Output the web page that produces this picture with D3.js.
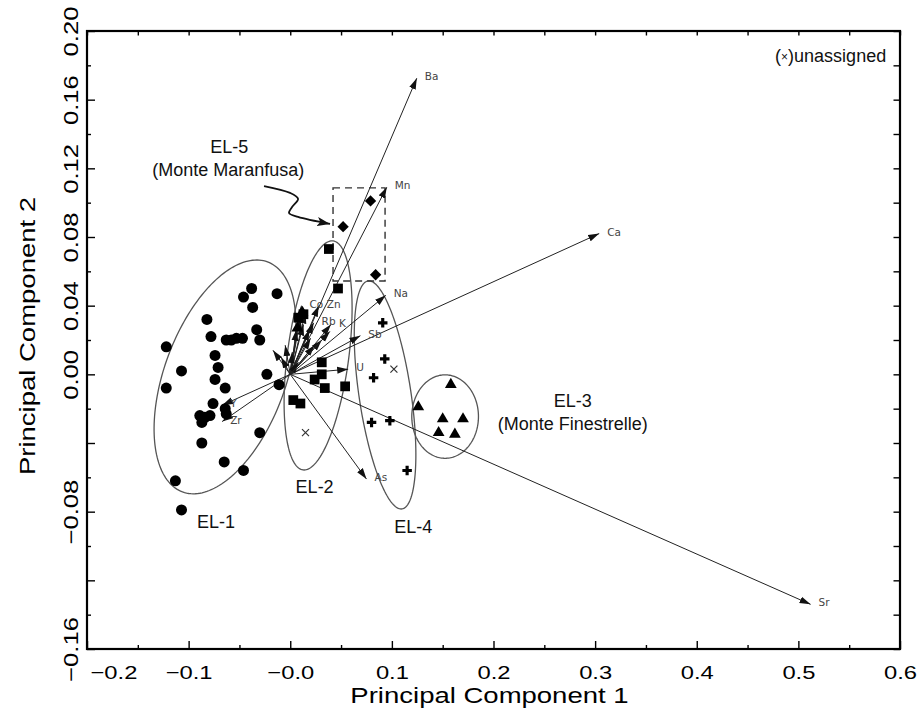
<!DOCTYPE html>
<html>
<head>
<meta charset="utf-8">
<script src="https://d3js.org/d3.v7.min.js"></script>
<style>
  html, body { margin: 0; background: #fff; }
  svg { display: block; font-family: "Liberation Sans", Arial, sans-serif; }
  .axis path.domain { display: none; }
  .axis line { stroke: #000; stroke-width: 1.4; }
  .axis text { fill: #000; }
</style>
</head>
<body>
<svg id="chart" width="919" height="718"></svg>
<script>
// ---- data ----
var xMajor = [-0.2, -0.1, 0.0, 0.1, 0.2, 0.3, 0.4, 0.5, 0.6];
var xMinor = [-0.15, -0.05, 0.05, 0.15, 0.25, 0.35, 0.45, 0.55];
var xTickLabels = ["\u22120.2", "\u22120.1", "\u22120.0", "0.1", "0.2", "0.3", "0.4", "0.5", "0.6"];
var yMajor = [0.20, 0.16, 0.12, 0.08, 0.04, 0.00, -0.04, -0.08, -0.12, -0.16];
var yMinor = [0.18, 0.14, 0.10, 0.06, 0.02, -0.02, -0.06, -0.10, -0.14];
var yTickLabels = ["0.20", "0.16", "0.12", "0.08", "0.04", "0.00", "", "\u22120.08", "", "\u22120.16"];

// EL-1 (circles)
var el1 = [[-0.038,0.050],[-0.046,0.045],[-0.037,0.039],[-0.013,0.047],[-0.082,0.032],
  [-0.122,0.016],[-0.078,0.022],[-0.063,0.020],[-0.058,0.020],[-0.053,0.021],[-0.047,0.021],
  [-0.033,0.026],[-0.030,0.020],[-0.074,0.011],[-0.071,0.004],[-0.107,0.002],[-0.122,-0.008],
  [-0.074,-0.003],[-0.064,-0.008],[-0.023,0.000],[-0.011,-0.006],[-0.076,-0.017],[-0.064,-0.020],
  [-0.063,-0.023],[-0.089,-0.024],[-0.084,-0.025],[-0.079,-0.024],[-0.087,-0.028],[-0.030,-0.034],
  [-0.087,-0.040],[-0.065,-0.051],[-0.046,-0.056],[-0.113,-0.062],[-0.107,-0.079]];
// EL-2 (squares)
var el2 = [[0.038,0.073],[0.047,0.050],[0.013,0.035],[0.008,0.033],[0.031,0.007],[0.031,0.000],
  [0.024,-0.003],[0.034,-0.008],[0.054,-0.007],[0.003,-0.015],[0.010,-0.017]];
// EL-2 triangles inside the cluster
var el2Tri = [[0.007,0.027],[0.012,0.036]];
// EL-3 (triangles)
var el3 = [[0.158,-0.006],[0.126,-0.019],[0.150,-0.026],[0.170,-0.026],[0.146,-0.034],[0.162,-0.035]];
// EL-4 (plus)
var el4 = [[0.091,0.030],[0.093,0.009],[0.082,-0.002],[0.080,-0.028],[0.098,-0.027],[0.115,-0.056]];
// EL-5 (diamonds)
var el5 = [[0.079,0.101],[0.052,0.086],[0.084,0.058]];
// unassigned (x)
var unassigned = [[0.102,0.003],[0.015,-0.034]];

// element loadings: [label, PC1, PC2]
var loadings = [["Ba",0.1245,0.1725],["Mn",0.095,0.109],["Ca",0.304,0.082],["Na",0.094,0.046],
  ["Sb",0.069,0.0225],["U",0.057,0.003],["As",0.075,-0.061],["Sr",0.512,-0.134],
  ["Zr",-0.067,-0.0275],["Y",-0.067,-0.018],["Co",0.011,0.040],["Zn",0.028,0.040],
  ["Rb",0.023,0.030],["K",0.040,0.029],["",0.019,0.026],
  ["",0.010,0.033],["",0.015,0.036],["",0.006,0.026],["",0.020,0.021],["",-0.017,0.014],
  ["",-0.005,0.017],["",0.013,0.029],["",0.024,0.017],["",0.002,0.013],["",0.031,0.020],
  ["",-0.009,0.010],["",0.008,0.007],["",0.039,0.025]];

// group outlines: centre and two half-axis vectors (data units)
var groupEllipses = [
  {cx: -0.0642, cy: -0.0015, a: [0.0418, 0.0670], b: [0.0559, -0.0122]},
  {cx: 0.0274, cy: 0.0110, a: [0.0148, 0.0667], b: [0.0300, -0.0023]},
  {cx: 0.0933, cy: -0.0120, a: [-0.0167, 0.0664], b: [0.0253, 0.0022]},
  {cx: 0.1524, cy: -0.0246, a: [0.0, 0.0243], b: [0.0328, 0.0]}
];
var el5Box = [0.0421, 0.0544, 0.0933, 0.1086];
var squiggle = [[-0.0258,0.1097],[-0.0002,0.1057],[0.0077,0.1022],[0.0018,0.0975],
  [-0.0012,0.0940],[0.0077,0.0917],[0.0392,0.0876]];
var notes = [
  {t: "EL-5", x: -0.060, y: 0.1289, anchor: "middle"},
  {t: "(Monte Maranfusa)", x: -0.061, y: 0.1156, anchor: "middle"},
  {t: "EL-1", x: -0.073, y: -0.0894, anchor: "middle"},
  {t: "EL-2", x: 0.024, y: -0.0689, anchor: "middle"},
  {t: "EL-4", x: 0.121, y: -0.0924, anchor: "middle"},
  {t: "EL-3", x: 0.278, y: -0.0188, anchor: "middle"},
  {t: "(Monte Finestrelle)", x: 0.278, y: -0.0324, anchor: "middle"}
];

// ---- chart ----
var svg = d3.select("#chart");
var W = 919, H = 718;
var m = {top: 31, right: 19, bottom: 69, left: 87};

var x = d3.scaleLinear().domain([-0.2, 0.6]).range([m.left, W - m.right]);
var y = d3.scaleLinear().domain([-0.16, 0.20]).range([H - m.bottom, m.top]);

function widen(sel, k) {
  sel.each(function() {
    var w = this.getComputedTextLength();
    d3.select(this).attr("textLength", w * k).attr("lengthAdjust", "spacingAndGlyphs");
  });
}

var defs = svg.append("defs");
defs.append("marker").attr("id", "head")
    .attr("viewBox", "0 -4 12 8").attr("refX", 11).attr("refY", 0)
    .attr("markerWidth", 12).attr("markerHeight", 8)
    .attr("markerUnits", "userSpaceOnUse").attr("orient", "auto")
  .append("path").attr("d", "M0,-3.5L11,0L0,3.5Z").attr("fill", "#111");
defs.append("marker").attr("id", "head2")
    .attr("viewBox", "0 -5 14 10").attr("refX", 13).attr("refY", 0)
    .attr("markerWidth", 14).attr("markerHeight", 10)
    .attr("markerUnits", "userSpaceOnUse").attr("orient", "auto")
  .append("path").attr("d", "M0,-4.5L13,0L0,4.5L3,0Z").attr("fill", "#111");

// ellipses
var closedLine = d3.line().x(function(d) { return x(d[0]); }).y(function(d) { return y(d[1]); })
    .curve(d3.curveLinearClosed);
svg.append("g").selectAll("path").data(groupEllipses).enter().append("path")
    .attr("d", function(g) {
      var pts = d3.range(0, 360, 2).map(function(deg) {
        var t = deg * Math.PI / 180;
        return [g.cx + g.a[0] * Math.cos(t) + g.b[0] * Math.sin(t),
                g.cy + g.a[1] * Math.cos(t) + g.b[1] * Math.sin(t)];
      });
      return closedLine(pts);
    })
    .attr("fill", "none").attr("stroke", "#555").attr("stroke-width", 1.3);

// EL-5 dashed box
svg.append("rect")
    .attr("x", x(el5Box[0])).attr("y", y(el5Box[3]))
    .attr("width", x(el5Box[2]) - x(el5Box[0])).attr("height", y(el5Box[1]) - y(el5Box[3]))
    .attr("fill", "none").attr("stroke", "#333").attr("stroke-width", 1.4)
    .attr("stroke-dasharray", "7,5");

// loading arrows
var arrows = svg.append("g");
arrows.selectAll("line").data(loadings).enter().append("line")
    .attr("x1", x(0)).attr("y1", y(0))
    .attr("x2", function(d) { return x(d[1]); }).attr("y2", function(d) { return y(d[2]); })
    .attr("stroke", "#222").attr("stroke-width", 1)
    .attr("marker-end", "url(#head)");
arrows.selectAll("text").data(loadings.filter(function(d) { return d[0]; })).enter().append("text")
    .attr("x", function(d) { return x(d[1]) + 8; })
    .attr("y", function(d) { return y(d[2]) + 2; })
    .attr("font-family", "DejaVu Sans, sans-serif")
    .attr("font-size", 10.5).attr("fill", "#444")
    .text(function(d) { return d[0]; });

// points
var pts = svg.append("g");
function sym(type, size) { return d3.symbol().type(type).size(size)(); }
pts.selectAll(".c").data(el1).enter().append("circle")
    .attr("cx", function(d) { return x(d[0]); }).attr("cy", function(d) { return y(d[1]); })
    .attr("r", 5.5).attr("fill", "#000");
pts.selectAll(".s").data(el2).enter().append("path")
    .attr("d", sym(d3.symbolSquare, 95))
    .attr("transform", function(d) { return "translate(" + x(d[0]) + "," + y(d[1]) + ")"; });
pts.selectAll(".t").data(el3.concat(el2Tri)).enter().append("path")
    .attr("d", sym(d3.symbolTriangle, 60))
    .attr("transform", function(d) { return "translate(" + x(d[0]) + "," + y(d[1]) + ")"; });
pts.selectAll(".p").data(el4).enter().append("path")
    .attr("d", sym(d3.symbolCross, 50))
    .attr("transform", function(d) { return "translate(" + x(d[0]) + "," + y(d[1]) + ")"; });
pts.selectAll(".d").data(el5).enter().append("path")
    .attr("d", sym(d3.symbolSquare, 64))
    .attr("transform", function(d) { return "translate(" + x(d[0]) + "," + y(d[1]) + ") rotate(45)"; });
pts.selectAll(".u").data(unassigned).enter().append("path")
    .attr("d", "M-3.5,-3.5L3.5,3.5M-3.5,3.5L3.5,-3.5")
    .attr("stroke", "#333").attr("stroke-width", 1.2)
    .attr("transform", function(d) { return "translate(" + x(d[0]) + "," + y(d[1]) + ")"; });

// squiggly pointer to EL-5
svg.append("path")
    .attr("d", d3.line().x(function(d) { return x(d[0]); }).y(function(d) { return y(d[1]); })
      .curve(d3.curveCatmullRom)(squiggle))
    .attr("fill", "none").attr("stroke", "#111").attr("stroke-width", 1.8)
    .attr("marker-end", "url(#head2)");

// annotations
svg.append("g").selectAll("text").data(notes).enter().append("text")
    .attr("x", function(d) { return x(d.x); }).attr("y", function(d) { return y(d.y); })
    .attr("text-anchor", function(d) { return d.anchor; })
    .attr("font-size", 18).attr("fill", "#111")
    .text(function(d) { return d.t; });

var legend = svg.append("text")
    .attr("x", x(0.5864)).attr("y", y(0.1819))
    .attr("text-anchor", "end").attr("font-size", 18).attr("fill", "#111");
legend.append("tspan").text("(");
legend.append("tspan").attr("font-size", 12).attr("dy", -1).text("\u00d7");
legend.append("tspan").attr("dy", 1).text(")unassigned");

// axes
var yb = y.range()[0], yt = y.range()[1], xl = x.range()[0], xr = x.range()[1];

svg.append("g").attr("class", "axis").attr("transform", "translate(0," + yb + ")")
    .call(d3.axisBottom(x).tickValues(xMinor).tickSize(-4).tickFormat(""));
var gxb = svg.append("g").attr("class", "axis").attr("transform", "translate(0," + yb + ")")
    .call(d3.axisBottom(x).tickValues(xMajor).tickSize(-8).tickPadding(17)
      .tickFormat(function(d, i) { return xTickLabels[i]; }));
gxb.selectAll("text").attr("font-size", 19).call(widen, 1.25);
gxb.selectAll(".tick text").filter(function(d) { return d === -0.2; })
    .attr("text-anchor", "start").attr("x", 3);

svg.append("g").attr("class", "axis").attr("transform", "translate(0," + yt + ")")
    .call(d3.axisTop(x).tickValues(xMajor.concat(xMinor)).tickSize(-4.5).tickFormat(""));

svg.append("g").attr("class", "axis").attr("transform", "translate(" + xl + ",0)")
    .call(d3.axisLeft(y).tickValues(yMinor).tickSize(-4).tickFormat(""));
var gyl = svg.append("g").attr("class", "axis").attr("transform", "translate(" + xl + ",0)")
    .call(d3.axisLeft(y).tickValues(yMajor).tickSize(-8)
      .tickFormat(function(d, i) { return yTickLabels[i]; }));
gyl.selectAll(".tick text")
    .attr("transform", "rotate(-90)")
    .attr("x", 0).attr("y", -9.5).attr("dy", 0)
    .attr("text-anchor", "middle").attr("font-size", 20.5)
    .call(widen, 1.25);

svg.append("g").attr("class", "axis").attr("transform", "translate(" + xr + ",0)")
    .call(d3.axisRight(y).tickValues(yMajor.concat(yMinor)).tickSize(-6.5).tickFormat(""));

// frame
svg.append("rect")
    .attr("x", xl).attr("y", yt).attr("width", xr - xl).attr("height", yb - yt)
    .attr("fill", "none").attr("stroke", "#000").attr("stroke-width", 2.2);

// axis titles
svg.append("text")
    .attr("x", (xl + xr) / 2 - 4).attr("y", 703)
    .attr("text-anchor", "middle").attr("font-size", 22)
    .text("Principal Component 1")
    .call(widen, 1.25);
svg.append("text")
    .attr("transform", "translate(35," + ((yt + yb) / 2 - 4) + ") rotate(-90)")
    .attr("text-anchor", "middle").attr("font-size", 22)
    .text("Principal Component 2")
    .call(widen, 1.25);
</script>
</body>
</html>
